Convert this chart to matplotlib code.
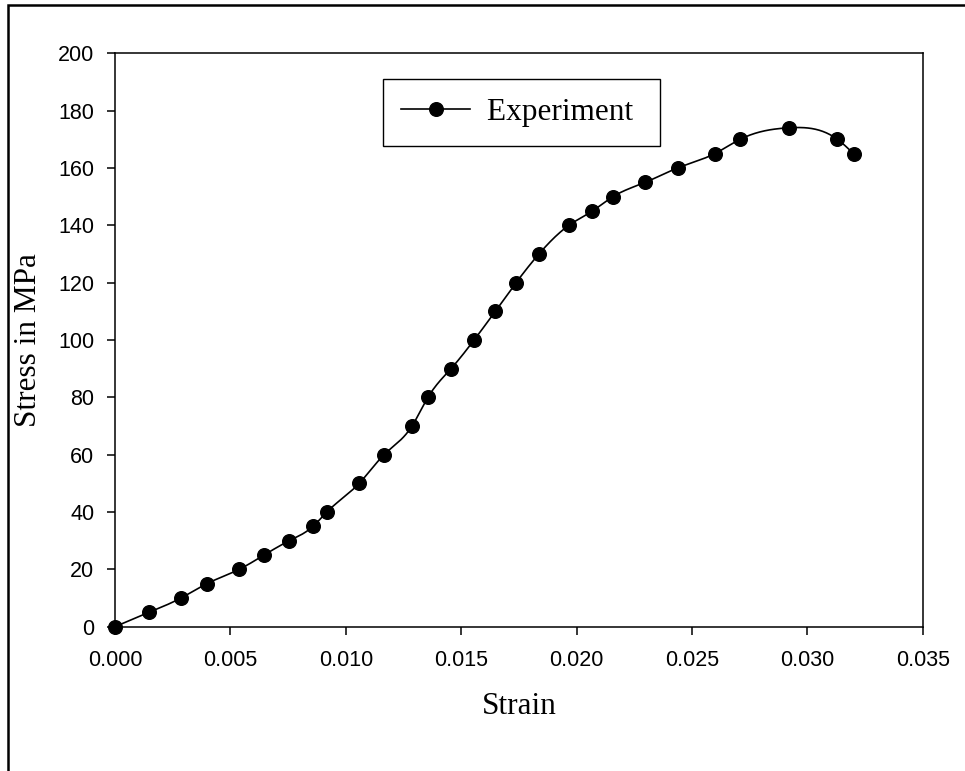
import numpy as np
import matplotlib
matplotlib.use('Agg')
from matplotlib import pyplot as plt
from matplotlib.patches import Rectangle

strain = [0.0, 0.00147, 0.00286, 0.00398, 0.00538, 0.00646, 0.00756,
          0.00858, 0.00918, 0.01058, 0.01166, 0.01287, 0.01356, 0.01456,
          0.01556, 0.01648, 0.01738, 0.01837, 0.01967, 0.02069, 0.02158,
          0.02298, 0.02438, 0.02599, 0.02709, 0.0292, 0.0313, 0.0320]
stress = [0, 5, 10, 15, 20, 25, 30, 35, 40, 50, 60, 70, 80, 90, 100, 110,
          120, 130, 140, 145, 150, 155, 160, 165, 170, 174, 170, 165]
x_ticks = [0.000, 0.005, 0.010, 0.015, 0.020, 0.025, 0.030, 0.035]
y_ticks = [0, 20, 40, 60, 80, 100, 120, 140, 160, 180, 200]


def natural_spline(x, y, n=600):
    """Natural cubic spline through the points, evaluated on a fine grid."""
    x = np.asarray(x, float)
    y = np.asarray(y, float)
    k = len(x)
    h = np.diff(x)
    A = np.zeros((k, k))
    r = np.zeros(k)
    A[0, 0] = A[-1, -1] = 1.0
    for i in range(1, k - 1):
        A[i, i - 1] = h[i - 1]
        A[i, i] = 2 * (h[i - 1] + h[i])
        A[i, i + 1] = h[i]
        r[i] = 6 * ((y[i + 1] - y[i]) / h[i] - (y[i] - y[i - 1]) / h[i - 1])
    m = np.linalg.solve(A, r)
    xs = np.linspace(x[0], x[-1], n)
    idx = np.clip(np.searchsorted(x, xs) - 1, 0, k - 2)
    x0, x1 = x[idx], x[idx + 1]
    hh = x1 - x0
    a = (x1 - xs) / hh
    b = (xs - x0) / hh
    ys = (a * y[idx] + b * y[idx + 1]
          + ((a ** 3 - a) * m[idx] + (b ** 3 - b) * m[idx + 1]) * hh ** 2 / 6)
    return xs, ys


fig = plt.figure(figsize=(9.65, 7.71), dpi=100)
ax = fig.add_axes([0.1192, 0.1872, 0.837, 0.7437])

xs, ys = natural_spline(strain, stress)
ax.plot(xs, ys, color='black', lw=1.2)
ax.plot(strain, stress, linestyle='none', marker='o', color='black',
        markersize=9.8, clip_on=False, zorder=5)
# proxy handle for the legend (line + marker)
ax.plot([], [], color='black', lw=1.2, marker='o', markersize=9.8,
        label='Experiment ')

ax.set_xlim(0, 0.035)
ax.set_ylim(0, 200)
ax.set_xticks(x_ticks)
ax.set_xticklabels(['%.3f' % v for v in x_ticks])
ax.set_yticks(y_ticks)
ax.tick_params(direction='out', length=6, width=1.1, labelsize=15.5)
ax.tick_params(axis='x', pad=11)
ax.tick_params(axis='y', pad=9)
for lab in ax.get_xticklabels() + ax.get_yticklabels():
    lab.set_family('Liberation Sans')
for sp in ax.spines.values():
    sp.set_linewidth(1.1)

ax.set_xlabel('Strain', family='Liberation Serif', fontsize=22.5,
              labelpad=15)
ax.set_ylabel('Stress in MPa', family='Liberation Serif', fontsize=22.5,
              labelpad=11)

leg = ax.legend(loc='upper left',
                bbox_to_anchor=(382.7 / 965, 1 - 79.3 / 771),
                bbox_transform=fig.transFigure, borderaxespad=0,
                prop={'family': 'Liberation Serif', 'size': 22.5},
                fancybox=False, framealpha=1, edgecolor='black',
                handlelength=2.2, handletextpad=0.55, borderpad=0.6)
leg.get_frame().set_linewidth(1.0)

# outer frame around the whole graph page
fig.patches.append(Rectangle((8 / 965, -0.2), 2, (1 - 5 / 771) + 0.2,
                             transform=fig.transFigure, fill=False,
                             edgecolor='black', lw=1.8))

fig.savefig('out.png', dpi=100)
